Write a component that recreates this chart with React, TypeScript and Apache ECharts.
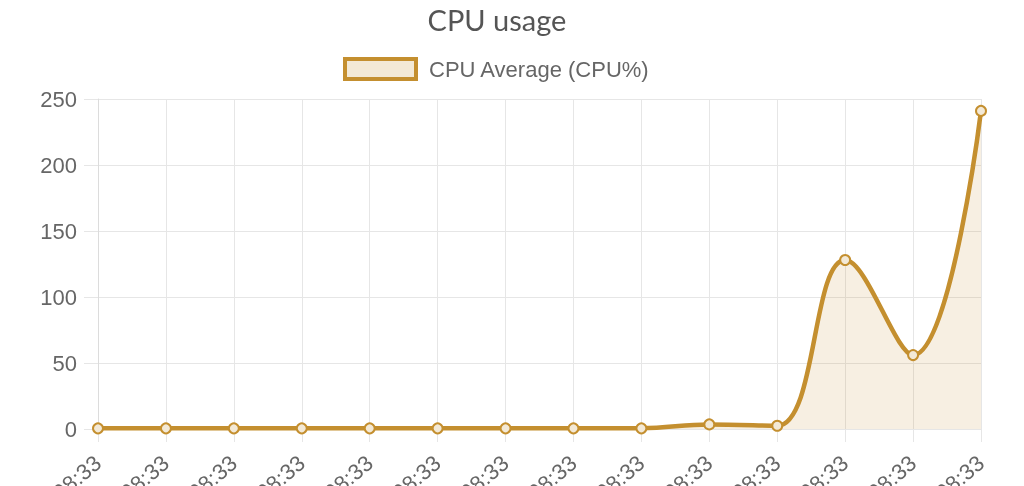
import React, { useEffect, useRef } from "react";
import * as echarts from "echarts";

const categories = ["08:33","08:33","08:33","08:33","08:33","08:33","08:33","08:33","08:33","08:33","08:33","08:33","08:33","08:33"];
const cpuAverage = [0.5, 0.5, 0.5, 0.5, 0.5, 0.5, 0.5, 0.5, 0.5, 3.5, 2.5, 128, 56, 241];
const yTicks = { min: 0, max: 250, interval: 50 };

const GOLD = "#C48F2F";
const FILL = "rgba(196,143,47,0.2)";
const GRID = "#e6e6e6";
const SANS = "Liberation Sans, Arial, Helvetica";

export default function App() {
  const ref = useRef<HTMLDivElement>(null);
  useEffect(() => {
    if (!ref.current) return;
    const chart = echarts.init(ref.current, undefined, { renderer: "svg" });
    chart.setOption({
      animation: false,
      title: {
        text: "CPU usage",
        left: 492,
        textAlign: "center",
        top: 0,
        textStyle: { fontFamily: "Lato", fontSize: 29, fontWeight: "normal", color: "#555" },
      },
      legend: {
        top: 52,
        left: 338,
        icon: "rect",
        itemWidth: 71,
        itemHeight: 20,
        data: [
          {
            name: "CPU Average (CPU%)",
            itemStyle: { color: "#f3e9d6", borderColor: GOLD, borderWidth: 4 },
          },
        ],
        textStyle: { fontFamily: SANS, fontSize: 22, color: "#666", padding: [0, 0, 0, 8] },
      },
      grid: { left: 98, right: 43, top: 99, bottom: 57, containLabel: false, outerBoundsMode: "none" },
      xAxis: {
        type: "category",
        data: categories,
        boundaryGap: false,
        axisLine: { show: true, lineStyle: { color: GRID, width: 1 } },
        axisTick: { show: true, length: 13, lineStyle: { color: GRID } },
        splitLine: { show: true, lineStyle: { color: GRID, width: 1 } },
        axisLabel: {
          rotate: 40,
          margin: 31,
          fontSize: 22,
          color: "#666",
          fontFamily: SANS,
          interval: 0,
        },
      },
      yAxis: {
        type: "value",
        min: yTicks.min,
        max: yTicks.max,
        interval: yTicks.interval,
        axisLine: { show: true, lineStyle: { color: "#dcdcdc", width: 1 } },
        axisTick: { show: true, length: 14, lineStyle: { color: GRID } },
        splitLine: { show: true, lineStyle: { color: GRID, width: 1 } },
        axisLabel: {
          margin: 21,
          fontSize: 22,
          color: "#666",
          fontFamily: SANS,
        },
      },
      series: [
        {
          name: "CPU Average (CPU%)",
          type: "line",
          data: cpuAverage,
          smooth: 0.4,
          symbol: "circle",
          symbolSize: 10,
          showAllSymbol: true,
          lineStyle: { color: GOLD, width: 4.5 },
          itemStyle: { color: "#f3e9d6", borderColor: GOLD, borderWidth: 2 },
          areaStyle: { color: FILL },
        },
      ],
    });
    return () => chart.dispose();
  }, []);
  return <div ref={ref} style={{ position: "fixed", left: 0, top: 0, width: 1024, height: 486 }} />;
}
